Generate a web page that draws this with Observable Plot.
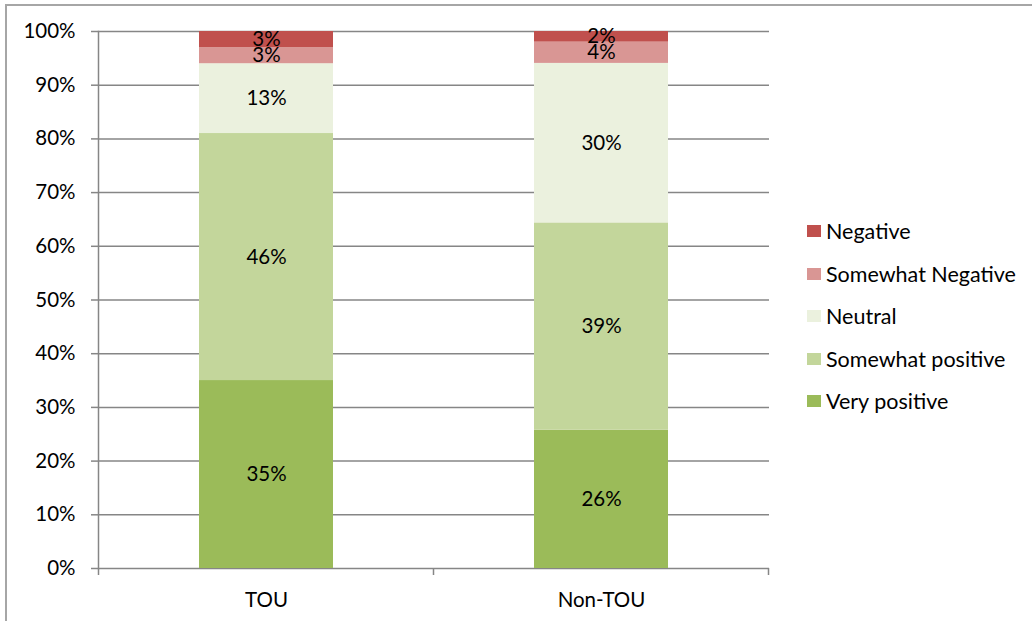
<!DOCTYPE html>
<html>
<head>
<meta charset="utf-8">
<script src="https://cdn.jsdelivr.net/npm/d3@7"></script>
<script src="https://cdn.jsdelivr.net/npm/@observablehq/plot@0.6"></script>
<style>
  html, body { margin: 0; padding: 0; background: #fff; }
  #wrap { position: relative; width: 1032px; height: 621px; overflow: hidden; font-family: Lato, "Open Sans", sans-serif; }
  #frame { position: absolute; left: 5px; top: 4px; right: -4px; bottom: -4px; border-left: 2px solid #a6a6a6; border-top: 2px solid #a6a6a6; }
  #chart { position: absolute; left: 0; top: 0; }
  #legend { position: absolute; left: 807px; top: 210px; font-size: 21.5px; color: #000; }
  .item { display: flex; align-items: center; height: 42.5px; }
  .sw { width: 14px; height: 12px; margin-right: 5px; }
</style>
</head>
<body>
<div id="wrap">
  <div id="frame"></div>
  <div id="chart"></div>
  <div id="legend"></div>
</div>
<script>
// Survey groups and response categories (bottom of stack first)
const groups = ["TOU", "Non-TOU"];
const responses = ["Very positive", "Somewhat positive", "Neutral", "Somewhat Negative", "Negative"];
const colors = ["#9bbb59", "#c3d69b", "#ebf1de", "#d99694", "#c0504d"];

// Share of respondents (%) per group, in the order of `responses`
const touValues = [35, 46, 13, 3, 3];
const nonTouValues = [26, 39, 30, 4, 2];

const yTicks = [0, 0.1, 0.2, 0.3, 0.4, 0.5, 0.6, 0.7, 0.8, 0.9, 1];

const rows = [];
[touValues, nonTouValues].forEach((vals, gi) => {
  vals.forEach((v, ri) => rows.push({group: groups[gi], response: responses[ri], value: v}));
});

const stackOpts = {x: "group", y: "value", z: "response", offset: "normalize", order: null};

// Tick marks at the band edges along the category axis
function bandEdgeTicks(index, scales) {
  const x = scales.x, y = scales.y;
  const step = x.step(), bw = x.bandwidth();
  const edges = [];
  groups.forEach((g, i) => {
    const start = x(g) - (step - bw) / 2;
    edges.push(start);
    if (i === groups.length - 1) edges.push(start + step);
  });
  const y0 = y(0);
  const g = d3.create("svg:g").attr("stroke", "#868686").attr("stroke-width", 1.5);
  edges.forEach(e => g.append("line").attr("x1", e).attr("x2", e).attr("y1", y0).attr("y2", y0 + 7));
  return g.node();
}

const chart = Plot.plot({
  width: 1032,
  height: 621,
  marginLeft: 98,
  marginRight: 263,
  marginTop: 31,
  marginBottom: 53,
  style: {fontFamily: "Lato, 'Open Sans', sans-serif", fontSize: "20.5px", color: "#000", background: "transparent"},
  x: {domain: groups, paddingInner: 0.6, paddingOuter: 0.3, label: null},
  y: {domain: [0, 1], label: null},
  color: {domain: responses, range: colors},
  marks: [
    Plot.ruleY(yTicks, {stroke: "#868686", strokeWidth: 1.5}),
    Plot.barY(rows, {...Plot.stackY(stackOpts), fill: "response"}),
    Plot.text(rows, {...Plot.stackY({...stackOpts, text: d => d.value + "%"}), fill: "#000", fontSize: 20.5}),
    Plot.frame({anchor: "left", stroke: "#868686", strokeWidth: 1.5}),
    Plot.axisY({ticks: yTicks, tickFormat: d3.format(".0%"), tickSize: 7, tickPadding: 16, stroke: "#868686", strokeWidth: 1.5, fontSize: 20.5}),
    Plot.axisX({tickSize: 0, tickPadding: 24, fontSize: 20.5}),
    bandEdgeTicks
  ]
});
document.getElementById("chart").appendChild(chart);

// Legend, listed top-down from Negative to Very positive
const legend = d3.select("#legend");
responses.slice().reverse().forEach(r => {
  const item = legend.append("div").attr("class", "item");
  item.append("div").attr("class", "sw").style("background", colors[responses.indexOf(r)]);
  item.append("span").text(r);
});
</script>
</body>
</html>
